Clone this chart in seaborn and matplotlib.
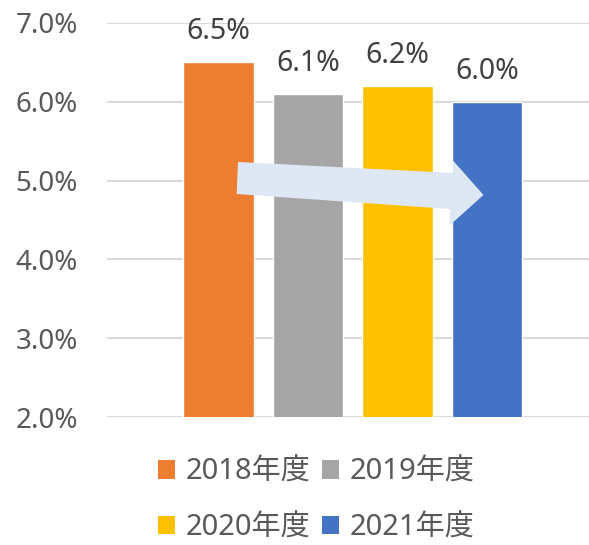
import matplotlib
matplotlib.use("Agg")
import matplotlib.pyplot as plt
import seaborn as sns
import pandas as pd
from matplotlib.patches import Patch, Polygon

years = ["2018年度", "2019年度", "2020年度", "2021年度"]
values = [6.5, 6.1, 6.2, 6.0]
colors = ["#ED7D31", "#A5A5A5", "#FFC000", "#4472C4"]
yticks = [2.0, 3.0, 4.0, 5.0, 6.0, 7.0]

sns.set_theme(style="white")
plt.rcParams["font.family"] = ["Noto Sans", "Noto Sans CJK JP", "DejaVu Sans"]

W, H = 589, 545
fig = plt.figure(figsize=(W / 100, H / 100), dpi=100)
ax = fig.add_axes([107 / W, 1 - 417 / H, (589 - 107) / W, (417 - 23) / H])

df = pd.DataFrame({"year": years, "value": values})
sns.barplot(data=df, x="year", y="value", hue="year", palette=colors,
            width=0.79, legend=False, ax=ax, zorder=2, saturation=1)

ax.set_ylim(2.0, 7.0)
ax.set_xlim((107 - 218.5) / 89.5, (589 - 218.5) / 89.5)
ax.set_yticks(yticks)
ax.set_yticklabels([f"{v:.1f}%" for v in yticks], fontsize=20, color="#595959")
ax.tick_params(axis="y", length=0, pad=21)
ax.set_xticks([])
ax.set_xlabel("")
ax.set_ylabel("")
for s in ax.spines.values():
    s.set_visible(False)
ax.grid(axis="y", color="#D9D9D9", linewidth=1.5, zorder=0)
ax.set_axisbelow(True)

for i, v in enumerate(values):
    ax.annotate(f"{v:.1f}%", (i, v), xytext=(0, 16.5), textcoords="offset points",
                ha="center", va="baseline", fontsize=20.5, color="#404040")

# decorative arrow (pixel coordinates, y from top)
pts = [(238, 162), (453, 173), (453, 160.5), (483.5, 195), (449.5, 225.5),
       (450, 209), (236.7, 194)]
poly = Polygon([(x / W, 1 - y / H) for x, y in pts], closed=True,
               transform=fig.transFigure, facecolor="#DDE8F4", edgecolor="none",
               zorder=5)
fig.patches.append(poly)

# legend filled row-wise: matplotlib fills columns, so reorder
order = [0, 2, 1, 3]
handles = [Patch(facecolor=colors[i], edgecolor="none") for i in order]
labels = [years[i] for i in order]
fig.legend(handles, labels, loc="center", bbox_to_anchor=(316 / W, 1 - 500 / H),
           ncol=2, frameon=False, fontsize=21, labelcolor="#595959",
           handlelength=0.6, handleheight=0.6, handletextpad=0.35,
           columnspacing=0.4, labelspacing=0.9, borderpad=0)

fig.savefig("out.png", dpi=100)
